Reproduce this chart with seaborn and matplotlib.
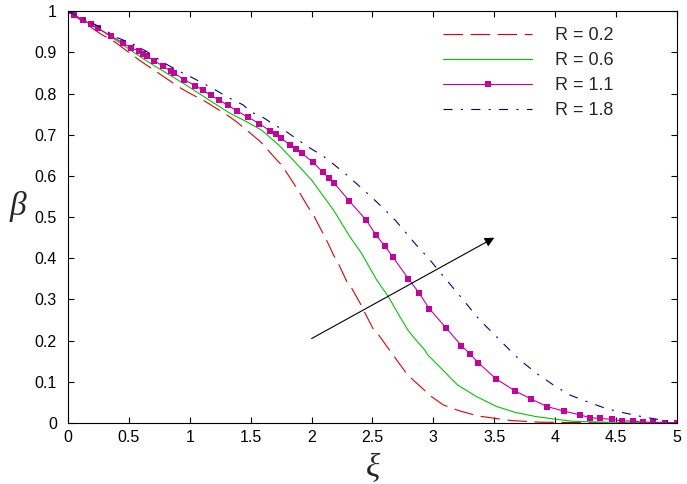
import numpy as np
import pandas as pd
import matplotlib
matplotlib.use("Agg")
import matplotlib.pyplot as plt
import seaborn as sns

sns.set_theme(style="ticks")
plt.rcParams['font.family'] = ['Liberation Sans', 'DejaVu Sans']
plt.rcParams['lines.scale_dashes'] = False

# valores (xi, beta) para cada R
xi_02 = [0, 0.26, 0.39, 0.59, 0.72, 0.78, 0.92, 0.99, 1.12, 1.32, 1.385, 1.5, 1.58, 1.71,
         1.755, 1.85, 1.89, 1.97, 2.01, 2.08, 2.11, 2.18, 2.22, 2.29, 2.33, 2.4, 2.44,
         2.51, 2.55, 2.63, 2.78, 2.85, 2.985, 3.08, 3.18, 3.245, 3.37, 3.49, 3.64, 3.875,
         4.2, 4.5, 5.0]
beta_02 = [1, 0.946, 0.924, 0.88, 0.854, 0.842, 0.814, 0.802, 0.782, 0.745, 0.731, 0.703,
           0.683, 0.64, 0.626, 0.583, 0.565, 0.525, 0.508, 0.468, 0.452, 0.408, 0.387,
           0.343, 0.327, 0.29, 0.266, 0.226, 0.214, 0.181, 0.12, 0.1, 0.064, 0.044, 0.033,
           0.027, 0.017, 0.012, 0.006, 0.002, 0.001, 0.0, 0.0]

xi_06 = [0, 0.29, 0.59, 0.7, 0.946, 1.16, 1.33, 1.47, 1.59, 1.73, 1.85, 2.0, 2.18, 2.315,
         2.41, 2.535, 2.63, 2.725, 2.79, 2.835, 2.93, 2.955, 3.05, 3.2, 3.355, 3.52, 3.67,
         3.835, 4.01, 4.15, 4.42, 5.0]
beta_06 = [1, 0.95, 0.89, 0.869, 0.825, 0.784, 0.752, 0.731, 0.711, 0.675, 0.638, 0.59,
           0.517, 0.452, 0.412, 0.347, 0.307, 0.258, 0.226, 0.209, 0.177, 0.165, 0.137,
           0.092, 0.064, 0.04, 0.026, 0.016, 0.009, 0.004, 0.002, 0.0]

xi_11 = [0, 0.05, 0.126, 0.19, 0.25, 0.35, 0.45, 0.515, 0.585, 0.618, 0.65, 0.71, 0.783,
         0.845, 0.873, 0.95, 1.045, 1.11, 1.17, 1.24, 1.31, 1.39, 1.475, 1.57, 1.655,
         1.705, 1.745, 1.825, 1.872, 1.918, 2.008, 2.09, 2.14, 2.183, 2.31, 2.45, 2.53,
         2.6, 2.665, 2.795, 2.885, 2.965, 3.104, 3.23, 3.3, 3.37, 3.515, 3.67, 3.805,
         3.933, 4.07, 4.2, 4.285, 4.37, 4.465, 4.547, 4.635, 4.72, 4.8, 4.9, 5.0]
beta_11 = [1, 0.99, 0.978, 0.968, 0.958, 0.94, 0.923, 0.911, 0.903, 0.897, 0.891, 0.879,
           0.866, 0.854, 0.849, 0.834, 0.819, 0.808, 0.796, 0.784, 0.772, 0.757, 0.743,
           0.727, 0.71, 0.701, 0.692, 0.675, 0.665, 0.655, 0.634, 0.61, 0.595, 0.583,
           0.539, 0.492, 0.456, 0.43, 0.404, 0.35, 0.315, 0.278, 0.231, 0.188, 0.168,
           0.146, 0.107, 0.078, 0.058, 0.04, 0.029, 0.02, 0.013, 0.011, 0.009, 0.005,
           0.005, 0.002, 0.002, 0.001, 0.0]

xi_18 = [0, 0.26, 0.4, 0.52, 0.646, 0.795, 0.92, 1.03, 1.14, 1.22, 1.316, 1.44, 1.495,
         1.59, 1.7, 1.795, 1.89, 1.99, 2.1, 2.19, 2.29, 2.4, 2.49, 2.59, 2.685, 2.78,
         2.86, 2.96, 3.1, 3.245, 3.38, 3.49, 3.6, 3.71, 3.85, 3.987, 4.12, 4.26, 4.42,
         4.56, 4.72, 4.86, 5.0]
beta_18 = [1, 0.962, 0.936, 0.922, 0.902, 0.873, 0.853, 0.837, 0.82, 0.807, 0.79, 0.772,
           0.756, 0.744, 0.723, 0.707, 0.687, 0.667, 0.647, 0.626, 0.602, 0.573, 0.549,
           0.521, 0.493, 0.46, 0.432, 0.4, 0.35, 0.299, 0.25, 0.218, 0.185, 0.153, 0.12,
           0.092, 0.068, 0.052, 0.035, 0.025, 0.015, 0.008, 0.0]

rotulos = ["R = 0.2", "R = 0.6", "R = 1.1", "R = 1.8"]
cores = ["#e00000", "#00c800", "#c8009c", "#000090"]

fig = plt.figure(figsize=(6.87, 4.84), dpi=100)
ax = fig.add_axes([0.099, 0.126, 0.8864, 0.851])

series = [(xi_02, beta_02), (xi_06, beta_06), (xi_11, beta_11), (xi_18, beta_18)]
estilos = [dict(linestyle=(0, (14, 5.5))),
           dict(linestyle="-"),
           dict(linestyle="-", marker="s", markersize=4),
           dict(linestyle=(0, (6.5, 6, 1.5, 6)))]

for (x, y), lab, c, st in zip(series, rotulos, cores, estilos):
    df = pd.DataFrame({"xi": x, "beta": y})
    sns.lineplot(data=df, x="xi", y="beta", ax=ax, color=c, lw=0.8, label=lab,
                 sort=False, estimator=None, markeredgewidth=0, **st)

# seta indicando o aumento de R
ax.annotate("", xy=(3.5, 0.45), xytext=(2.0, 0.205),
            arrowprops=dict(arrowstyle="-|>", color="black", lw=0.8,
                            mutation_scale=14, shrinkA=0, shrinkB=0))

ax.set_xlim(0, 5)
ax.set_ylim(0, 1)
ax.set_xticks(np.arange(0, 5.01, 0.5))
ax.set_yticks(np.arange(0, 1.01, 0.1))
ax.set_xticklabels(["0", "0.5", "1", "1.5", "2", "2.5", "3", "3.5", "4", "4.5", "5"])
ax.set_yticklabels(["0", "0.1", "0.2", "0.3", "0.4", "0.5", "0.6", "0.7", "0.8", "0.9", "1"])
ax.tick_params(direction="in", length=4.5, width=0.8, top=True, right=True,
               labelsize=11.5, colors="black")
ax.tick_params(axis="x", pad=5)
ax.tick_params(axis="y", pad=8)
for s in ax.spines.values():
    s.set_linewidth(0.8)
    s.set_color("black")

ax.set_xlabel("ξ", family=["Liberation Serif", "DejaVu Serif"], style="italic",
              fontsize=24)
ax.set_ylabel("β", family=["Liberation Serif", "DejaVu Serif"], style="italic",
              fontsize=24, rotation=0, va="center")
ax.yaxis.set_label_coords(-0.082, 0.525)
ax.xaxis.set_label_coords(0.5, -0.075)

ax.legend(loc="upper right", bbox_to_anchor=(614 / 687, 1 - 27 / 484),
          bbox_transform=fig.transFigure, frameon=False, borderpad=0, borderaxespad=0,
          fontsize=13, handlelength=4.9, handletextpad=1.3, labelspacing=0.45,
          numpoints=1)

fig.savefig("out.png", dpi=100)
